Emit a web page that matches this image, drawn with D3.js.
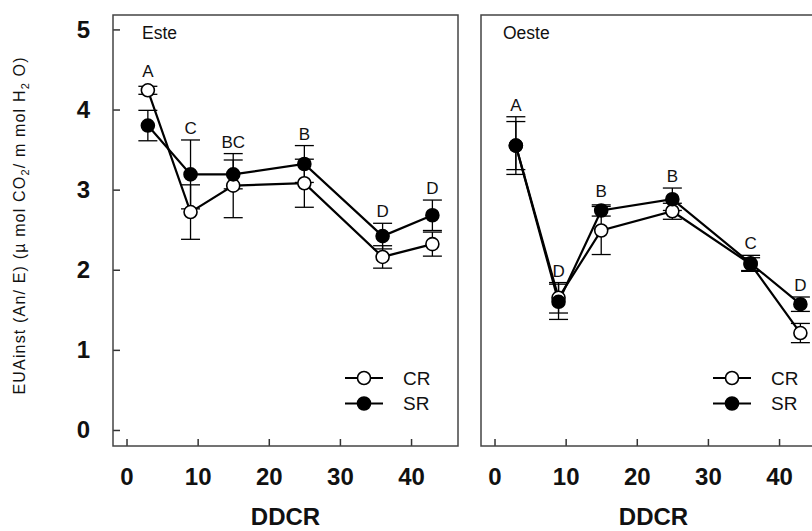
<!DOCTYPE html>
<html>
<head>
<meta charset="utf-8">
<script src="https://cdn.jsdelivr.net/npm/d3@7"></script>
<style>
    body { margin: 0; background: #fff; }
    text { font-family: "Liberation Sans", Arial, sans-serif; fill: #111; }
</style>
</head>
<body>
<div id="chart"></div>
<script>

// days after start (DDCR)
const days = [3, 9, 15, 25, 36, 43];
const xTicks = [0, 10, 20, 30, 40];
const yTicks = [0, 1, 2, 3, 4, 5];

// Este
const esteCR = [4.24, 2.72, 3.05, 3.08, 2.16, 2.32];
const esteCRerr = [0.05, 0.34, 0.40, 0.30, 0.14, 0.15];
const esteSR = [3.80, 3.19, 3.19, 3.32, 2.42, 2.68];
const esteSRerr = [0.19, 0.43, 0.18, 0.23, 0.16, 0.19];
const esteLetters = ["A", "C", "BC", "B", "D", "D"];

// Oeste
const oesteCR = [3.55, 1.65, 2.49, 2.73, 2.07, 1.21];
const oesteCRerr = [0.30, 0.19, 0.30, 0.10, 0.08, 0.12];
const oesteSR = [3.55, 1.60, 2.74, 2.88, 2.08, 1.57];
const oesteSRerr = [0.36, 0.22, 0.07, 0.14, 0.10, 0.09];
const oesteLetters = ["A", "D", "B", "B", "C", "D"];

const seriesNames = ["CR", "SR"];

const width = 812;
const height = 531;

const svg = d3.select("#chart")
    .append("svg")
    .attr("width", width)
    .attr("height", height);

const panelW = 345;
const panelH = 431;
const panelTop = 15;

const x = d3.scaleLinear()
    .domain([-1.9, 46.6])
    .range([0, panelW]);

const y = d3.scaleLinear()
    .domain([-0.2, 5.18])
    .range([panelH, 0]);

const line = d3.line()
    .x(function(d) { return x(d.day); })
    .y(function(d) { return y(d.v); });

const panels = [
    { name: "Este", left: 113, titleX: 29, cr: esteCR, crErr: esteCRerr,
      sr: esteSR, srErr: esteSRerr, letters: esteLetters, yAxis: true },
    { name: "Oeste", left: 481, titleX: 22, cr: oesteCR, crErr: oesteCRerr,
      sr: oesteSR, srErr: oesteSRerr, letters: oesteLetters, yAxis: false }
];

panels.forEach(function(p) {
    drawPanel(p);
});

// y axis title
const yLabel = svg.append("text")
    .attr("transform", "translate(25,226) rotate(-90)")
    .attr("text-anchor", "middle")
    .attr("font-size", 16)
    .attr("textLength", 337)
    .attr("lengthAdjust", "spacing");

yLabel.append("tspan").text("EUAinst (An/ E) (\u00b5 mol CO");
yLabel.append("tspan").attr("dy", 4).attr("font-size", 11).text("2");
yLabel.append("tspan").attr("dy", -4).text("/ m mol H");
yLabel.append("tspan").attr("dy", 4).attr("font-size", 11).text("2");
yLabel.append("tspan").attr("dy", -4).text(" O)");


function drawPanel(p) {

    const g = svg.append("g")
        .attr("transform", "translate(" + p.left + "," + panelTop + ")");

    const crData = days.map(function(d, i) {
        return { day: d, v: p.cr[i], err: p.crErr[i] };
    });
    const srData = days.map(function(d, i) {
        return { day: d, v: p.sr[i], err: p.srErr[i] };
    });

    // x axis
    const xAxis = g.append("g")
        .attr("transform", "translate(0," + panelH + ")")
        .call(d3.axisBottom(x).tickValues(xTicks).tickSize(-7).tickPadding(22));

    xAxis.select(".domain").remove();
    xAxis.selectAll("line").attr("stroke", "#333").attr("stroke-width", 1.5);
    xAxis.selectAll("text")
        .attr("font-size", 24)
        .attr("font-weight", "bold")
        .attr("font-family", "Liberation Sans, Arial, sans-serif")
        .attr("fill", "#111");

    if (p.yAxis) {
        const yAxis = g.append("g")
            .call(d3.axisLeft(y).tickValues(yTicks).tickFormat(d3.format("d"))
                .tickSize(-7).tickPadding(23));

        yAxis.select(".domain").remove();
        yAxis.selectAll("line").attr("stroke", "#333").attr("stroke-width", 1.5);
        yAxis.selectAll("text")
            .attr("font-size", 24)
            .attr("font-weight", "bold")
            .attr("font-family", "Liberation Sans, Arial, sans-serif")
            .attr("fill", "#111");
    }

    // frame
    g.append("rect")
        .attr("x", 0)
        .attr("y", 0)
        .attr("width", panelW)
        .attr("height", panelH)
        .attr("fill", "none")
        .attr("stroke", "#444")
        .attr("stroke-width", 1.5);

    // x axis title
    g.append("text")
        .attr("x", panelW / 2)
        .attr("y", 510)
        .attr("text-anchor", "middle")
        .attr("font-size", 24)
        .attr("font-weight", "bold")
        .text("DDCR");

    // panel name
    g.append("text")
        .attr("x", p.titleX)
        .attr("y", 24)
        .attr("font-size", 17.5)
        .text(p.name);

    // lines
    [crData, srData].forEach(function(data) {
        g.append("path")
            .datum(data)
            .attr("d", line)
            .attr("fill", "none")
            .attr("stroke", "#000")
            .attr("stroke-width", 2.2);
    });

    // error bars
    [crData, srData].forEach(function(data) {
        const eb = g.selectAll(null)
            .data(data)
            .enter()
            .append("g")
            .attr("stroke", "#000")
            .attr("stroke-width", 1.3);

        eb.append("line")
            .attr("x1", function(d) { return x(d.day); })
            .attr("x2", function(d) { return x(d.day); })
            .attr("y1", function(d) { return y(d.v - d.err); })
            .attr("y2", function(d) { return y(d.v + d.err); });

        eb.append("line")
            .attr("x1", function(d) { return x(d.day) - 9.5; })
            .attr("x2", function(d) { return x(d.day) + 9.5; })
            .attr("y1", function(d) { return y(d.v + d.err); })
            .attr("y2", function(d) { return y(d.v + d.err); });

        eb.append("line")
            .attr("x1", function(d) { return x(d.day) - 9.5; })
            .attr("x2", function(d) { return x(d.day) + 9.5; })
            .attr("y1", function(d) { return y(d.v - d.err); })
            .attr("y2", function(d) { return y(d.v - d.err); });
    });

    // markers
    g.selectAll(null)
        .data(crData)
        .enter()
        .append("circle")
        .attr("cx", function(d) { return x(d.day); })
        .attr("cy", function(d) { return y(d.v); })
        .attr("r", 6.5)
        .attr("fill", "#fff")
        .attr("stroke", "#000")
        .attr("stroke-width", 1.6);

    g.selectAll(null)
        .data(srData)
        .enter()
        .append("circle")
        .attr("cx", function(d) { return x(d.day); })
        .attr("cy", function(d) { return y(d.v); })
        .attr("r", 6.5)
        .attr("fill", "#000")
        .attr("stroke", "#000")
        .attr("stroke-width", 1.6);

    // significance letters
    g.selectAll(null)
        .data(p.letters)
        .enter()
        .append("text")
        .attr("x", function(d, i) { return x(days[i]); })
        .attr("y", function(d, i) {
            const top = Math.min(
                y(crData[i].v + crData[i].err), y(crData[i].v) - 7,
                y(srData[i].v + srData[i].err), y(srData[i].v) - 7
            );
            return top - 6;
        })
        .attr("text-anchor", "middle")
        .attr("font-size", 17)
        .attr("fill", "#222")
        .text(function(d) { return d; });

    // legend
    const legend = g.selectAll(null)
        .data(seriesNames)
        .enter()
        .append("g")
        .attr("transform", function(d, i) {
            return "translate(251," + (363 + i * 25.5) + ")";
        });

    legend.append("line")
        .attr("x1", -19)
        .attr("x2", 19)
        .attr("stroke", "#000")
        .attr("stroke-width", 2.2);

    legend.append("circle")
        .attr("r", 6.5)
        .attr("fill", function(d) { return d === "CR" ? "#fff" : "#000"; })
        .attr("stroke", "#000")
        .attr("stroke-width", 1.6);

    legend.append("text")
        .attr("x", 39)
        .attr("dy", "0.36em")
        .attr("font-size", 19)
        .text(function(d) { return d; });
}

</script>
</body>
</html>
